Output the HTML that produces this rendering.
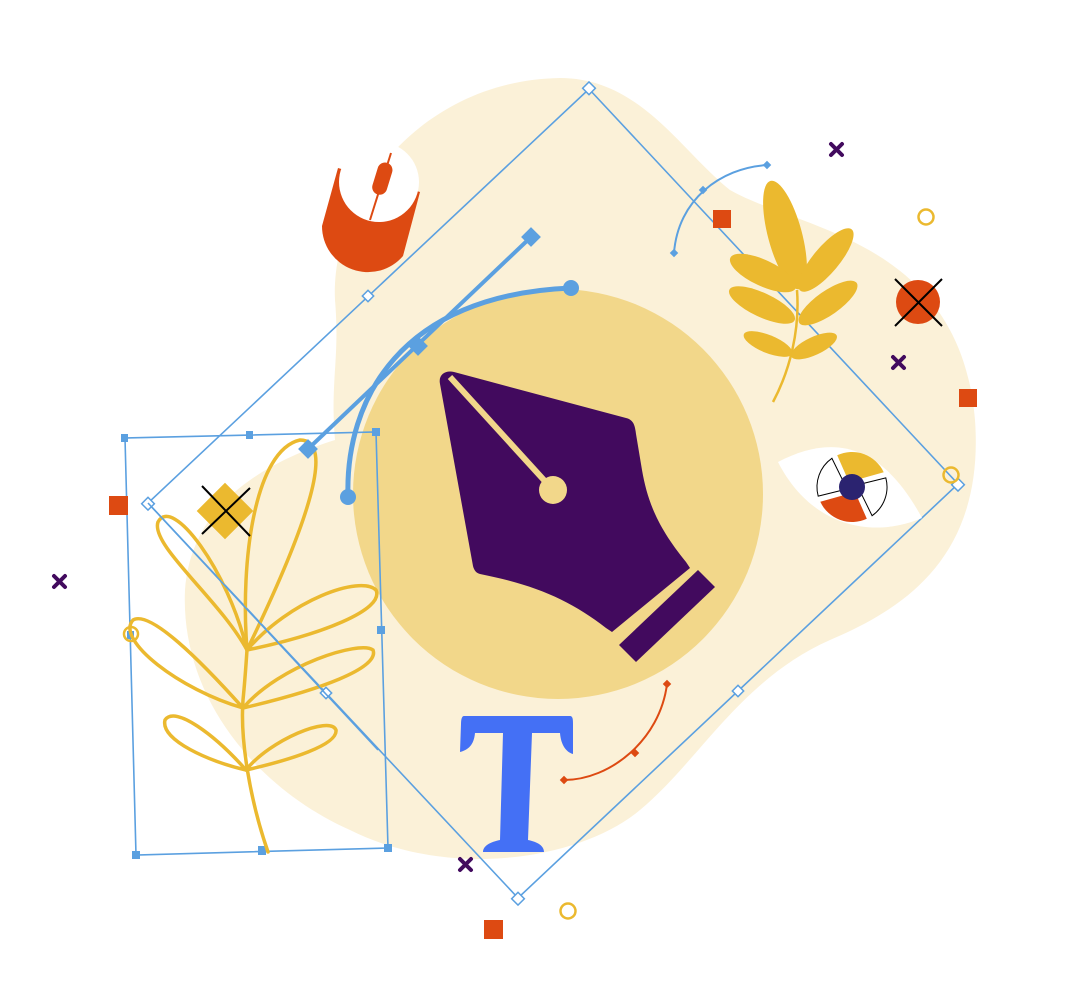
<!DOCTYPE html>
<html><head><meta charset="utf-8"><style>html,body{margin:0;padding:0;background:#fff}svg{display:block}</style></head>
<body>
<svg width="1092" height="988" viewBox="0 0 1092 988" xmlns="http://www.w3.org/2000/svg">
<!-- blob -->
<path d="M560,78 C640,78 680,150 730,190 C800,230 960,240 975,420 C985,560 900,610 830,640 C740,680 700,760 640,810 C580,860 450,880 350,830 C260,790 180,700 185,590 C190,520 240,470 335,440 C330,380 340,360 335,300 C330,200 420,80 560,78 Z" fill="#FBF1D8"/>
<circle cx="558" cy="494" r="205" fill="#F2D78A"/>

<!-- big diamond -->
<polygon points="589,89 958,484 518,898 148,503" fill="none" stroke="#5BA0E0" stroke-width="1.6"/>
<g fill="#fff" stroke="#5BA0E0" stroke-width="1.5">
<rect x="584" y="84" width="9" height="9" transform="rotate(45 589 89)"/>
<rect x="954" y="480" width="9" height="9" transform="rotate(45 958 484)"/>
<rect x="514" y="894" width="9" height="9" transform="rotate(45 518 898)"/>
<rect x="144" y="499" width="9" height="9" transform="rotate(45 148 503)"/>
<rect x="364" y="292" width="8" height="8" transform="rotate(45 368 296)"/>
<rect x="734" y="687" width="8" height="8" transform="rotate(45 738 691)"/>
<rect x="322" y="689" width="8" height="8" transform="rotate(45 326 693)"/>
</g>

<!-- quad -->
<polygon points="125,438 376,432 388,848 136,855" fill="none" stroke="#5BA0E0" stroke-width="1.6"/>
<g fill="#5BA0E0">
<rect x="121" y="434" width="7" height="8"/><rect x="246" y="431" width="7" height="8"/><rect x="372" y="428" width="8" height="8"/>
<rect x="377" y="626" width="8" height="8"/><rect x="384" y="844" width="8" height="8"/><rect x="258" y="846" width="8" height="9"/>
<rect x="132" y="851" width="8" height="8"/><rect x="127" y="631" width="7" height="8"/>
</g>

<!-- left plant -->
<g fill="none" stroke="#EBB92F" stroke-width="3.5" stroke-linecap="round">
<path d="M268,852 C250,800 240,740 243,700 C245,680 246,665 247,650"/>
<path d="M247,650 C220,600 150,545 158,522 C172,495 228,570 247,650"/>
<path d="M247,650 C240,560 255,450 300,440 C335,440 310,520 247,650"/>
<path d="M247,650 C290,600 360,575 376,590 C385,610 320,635 247,650"/>
<path d="M243,708 C200,660 150,610 133,620 C115,640 180,690 243,708"/>
<path d="M243,708 C280,665 360,640 373,650 C380,668 320,690 243,708"/>
<path d="M246,770 C215,735 175,705 165,720 C160,740 210,762 246,770"/>
<path d="M246,770 C270,740 330,715 336,730 C338,745 290,760 246,770"/>
</g>
<circle cx="131" cy="634" r="7" fill="none" stroke="#EBB92F" stroke-width="2.5"/>
<line x1="148" y1="503" x2="378" y2="750" stroke="#5BA0E0" stroke-width="1.6"/>

<!-- yellow diamond w/ X -->
<rect x="205" y="491" width="40" height="40" fill="#EBB92F" transform="rotate(45 225 511)"/>
<path d="M202,486 L250,536 M250,488 L202,534" stroke="#000" stroke-width="2"/>

<!-- pen path -->
<line x1="308" y1="449" x2="531" y2="237" stroke="#5BA0E0" stroke-width="4"/>
<g fill="#5BA0E0">
<rect x="524" y="230" width="14" height="14" transform="rotate(45 531 237)"/>
<rect x="411" y="339" width="14" height="14" transform="rotate(45 418 346)"/>
<rect x="301" y="442" width="14" height="14" transform="rotate(45 308 449)"/>
<circle cx="348" cy="497" r="8"/><circle cx="571" cy="288" r="8"/>
</g>
<path d="M348,497 C345,400 400,295 571,288" fill="none" stroke="#5BA0E0" stroke-width="5"/>

<!-- mouse -->
<path d="M338,168 L322,226 A46,46 0 0 0 403,256 L420,192 Z" fill="#DD4A12"/>
<circle cx="379" cy="182" r="40" fill="#fff"/>
<line x1="391" y1="153" x2="370" y2="220" stroke="#DD4A12" stroke-width="2"/>
<rect x="375" y="162" width="15" height="33" rx="7.5" fill="#DD4A12" transform="rotate(17 382 178)"/>

<!-- nib -->
<path d="M440,384 C438,374 446,370 454,372 L626,418 C634,420 635,426 636,434 L642,470 C648,505 660,530 686,562 L690,568 L612,632 L606,628 C570,600 535,585 480,574 C476,573 474,570 473,566 Z" fill="#420A5E"/>
<polygon points="619,645 698,570 715,587 636,662" fill="#420A5E"/>
<line x1="450" y1="377" x2="553" y2="490" stroke="#F2D78A" stroke-width="6"/>
<circle cx="553" cy="490" r="14" fill="#F2D78A"/>

<!-- T -->
<path d="M464,716 L570,716 C573,716 573,720 573,724 L573,754 C566,752 561,745 560,733 L532,733 L528,840 C538,842 544,846 544,852 L483,852 C483,846 490,842 500,840 L503,733 L475,733 C474,745 468,750 460,752 L461,724 C461,719 462,716 464,716 Z" fill="#4470F5"/>

<!-- orange arc -->
<path d="M564,780 C610,780 660,740 667,684" fill="none" stroke="#DD4A12" stroke-width="2"/>
<g fill="#DD4A12">
<rect x="561" y="777" width="6" height="6" transform="rotate(45 564 780)"/>
<rect x="632" y="750" width="6" height="6" transform="rotate(45 635 753)"/>
<rect x="664" y="681" width="6" height="6" transform="rotate(45 667 684)"/>
</g>

<!-- blue arc -->
<path d="M674,253 C678,200 720,168 767,165" fill="none" stroke="#5BA0E0" stroke-width="2"/>
<g fill="#5BA0E0">
<rect x="671" y="250" width="6" height="6" transform="rotate(45 674 253)"/>
<rect x="700" y="187" width="6" height="6" transform="rotate(45 703 190)"/>
<rect x="764" y="162" width="6" height="6" transform="rotate(45 767 165)"/>
</g>

<!-- right plant -->
<path d="M773,402 C790,370 800,330 797,290" fill="none" stroke="#EBB92F" stroke-width="2.5"/>
<g fill="#EBB92F">
<ellipse cx="785" cy="235" rx="17" ry="56" transform="rotate(-15 785 235)"/>
<ellipse cx="826" cy="260" rx="13" ry="40" transform="rotate(40 826 260)"/>
<ellipse cx="763" cy="273" rx="36" ry="13" transform="rotate(25 763 273)"/>
<ellipse cx="828" cy="303" rx="35" ry="12" transform="rotate(-35 828 303)"/>
<ellipse cx="762" cy="305" rx="36" ry="12" transform="rotate(25 762 305)"/>
<ellipse cx="768" cy="344" rx="26" ry="9" transform="rotate(22 768 344)"/>
<ellipse cx="814" cy="346" rx="25" ry="9" transform="rotate(-25 814 346)"/>
</g>

<!-- eye -->
<path d="M778,462 C830,435 880,440 922,518 C870,540 810,525 778,462 Z" fill="#fff"/>
<g transform="translate(852,487)">
<path d="M-3,-5 L-14.8,-31.7 A35,35 0 0 1 31.7,-14.8 Z" fill="#EBB92F"/>
<path d="M5,-2 L33.8,-9.1 A35,35 0 0 1 20.1,28.7 Z" fill="#fff" stroke="#000" stroke-width="1"/>
<path d="M3,5 L14.8,31.7 A35,35 0 0 1 -31.7,14.8 Z" fill="#DD4A12"/>
<path d="M-5,2 L-33.8,9.1 A35,35 0 0 1 -20.1,-28.7 Z" fill="#fff" stroke="#000" stroke-width="1"/>
<circle r="13" fill="#2B2370"/>
</g>

<!-- decorations -->
<circle cx="918" cy="302" r="22" fill="#DD4A12"/>
<path d="M895,279 L942,326 M942,279 L895,326" stroke="#000" stroke-width="2"/>
<g fill="#DD4A12">
<rect x="713" y="210" width="18" height="18"/>
<rect x="959" y="389" width="18" height="18"/>
<rect x="109" y="496" width="19" height="19"/>
<rect x="484" y="920" width="19" height="19"/>
</g>
<g fill="none" stroke="#EBB92F" stroke-width="2.5">
<circle cx="926" cy="217" r="7.5"/><circle cx="951" cy="475" r="7.5"/><circle cx="568" cy="911" r="7.5"/>
</g>
<g stroke="#420A5E" stroke-width="4" stroke-linecap="round">
<path d="M831,144 L842,155 M842,144 L831,155"/>
<path d="M893,357 L904,368 M904,357 L893,368"/>
<path d="M54,576 L65,587 M65,576 L54,587"/>
<path d="M460,859 L471,870 M471,859 L460,870"/>
</g>
</svg>
</body></html>
